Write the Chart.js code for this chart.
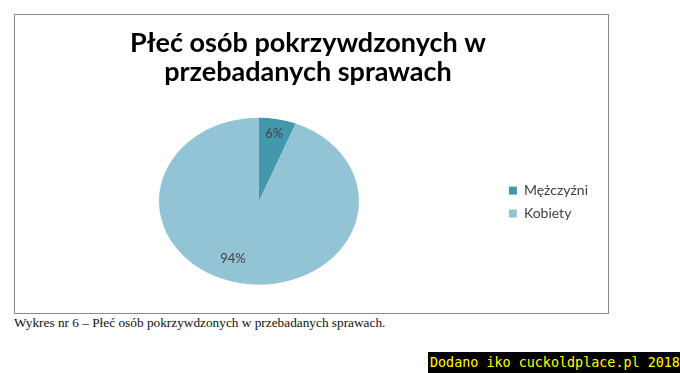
<!DOCTYPE html>
<html lang="pl">
<head>
<meta charset="utf-8">
<script src="https://cdn.jsdelivr.net/npm/chart.js@4"></script>
<style>
  html, body { margin: 0; padding: 0; background: #fff; }
  body { width: 680px; height: 373px; position: relative; overflow: hidden; }
  #box { position: absolute; left: 14px; top: 14px; width: 593px; height: 298px; border: 1px solid #8a8a8a; }
  #chartWrap { position: absolute; left: 0; top: 0; width: 593px; height: 298px; }
  #caption { position: absolute; left: 14px; top: 315px; font-family: "Liberation Serif", serif; font-size: 13.3px; color: #111; white-space: nowrap; }
  #mark { position: absolute; left: 428px; top: 352px; width: 252px; height: 21px; background: #000; color: #ffff00;
          font-family: "DejaVu Sans Mono", monospace; font-size: 13.4px; line-height: 21px; padding-left: 2px; box-sizing: border-box; white-space: nowrap; }
</style>
</head>
<body>
<div id="box">
  <div id="chartWrap"><canvas id="pieChart"></canvas></div>
</div>
<div id="caption">Wykres nr 6 – Płeć osób pokrzywdzonych w przebadanych sprawach.</div>
<div id="mark">Dodano iko cuckoldplace.pl 2018</div>

<script>
// Dane wykresu
const labels = ['Mężczyźni', 'Kobiety'];
const values = [6, 94];
const colors = ['#4398ae', '#93c4d5'];
const titleLines = ['Płeć osób pokrzywdzonych w', 'przebadanych sprawach'];

// spłaszczenie koła w elipsę (jak w Excelu)
const ySquash = 0.835;
const labelRadius = [0.82, 0.74];
const labelAngleShift = [0, 0.17];

const ellipsePlugin = {
    id: 'ellipse',
    beforeDatasetsDraw(chart) {
        const arc = chart.getDatasetMeta(0).data[0];
        const c = chart.ctx;
        c.save();
        c.translate(arc.x, arc.y);
        c.scale(1, ySquash);
        c.translate(-arc.x, -arc.y);
    },
    afterDatasetsDraw(chart) {
        chart.ctx.restore();
        // etykiety procentowe
        const c = chart.ctx;
        const total = values.reduce((a, b) => a + b, 0);
        chart.getDatasetMeta(0).data.forEach((arc, i) => {
            const mid = (arc.startAngle + arc.endAngle) / 2 + labelAngleShift[i];
            const r = arc.outerRadius * labelRadius[i];
            const x = arc.x + Math.cos(mid) * r;
            const y = arc.y + Math.sin(mid) * r * ySquash;
            c.save();
            c.font = '13px Lato, "Open Sans", sans-serif';
            c.fillStyle = '#404040';
            c.textAlign = 'center';
            c.textBaseline = 'middle';
            c.fillText(Math.round(values[i] / total * 100) + '%', x, y);
            c.restore();
        });
    }
};

const ctx = document.getElementById('pieChart').getContext('2d');
new Chart(ctx, {
    type: 'pie',
    data: {
        labels,
        datasets: [{
            data: values,
            backgroundColor: colors,
            borderWidth: 0
        }]
    },
    options: {
        responsive: true,
        maintainAspectRatio: false,
        animation: false,
        radius: 100,
        layout: { padding: { left: 3, right: 10, top: 8, bottom: 3 } },
        plugins: {
            title: {
                display: true,
                text: titleLines,
                color: '#000',
                font: { family: 'Lato, "Open Sans", sans-serif', size: 27, weight: 'bold', lineHeight: 1.08 },
                padding: { top: 6, bottom: 5 }
            },
            legend: {
                position: 'right',
                title: {
                    display: true,
                    text: ' ',
                    font: { size: 1 },
                    padding: { top: 35, bottom: 35 }
                },
                labels: {
                    boxWidth: 8,
                    boxHeight: 8,
                    padding: 9,
                    color: '#404040',
                    font: { family: 'Lato, "Open Sans", sans-serif', size: 14 }
                }
            },
            tooltip: { enabled: false }
        }
    },
    plugins: [ellipsePlugin]
});
</script>
</body>
</html>
